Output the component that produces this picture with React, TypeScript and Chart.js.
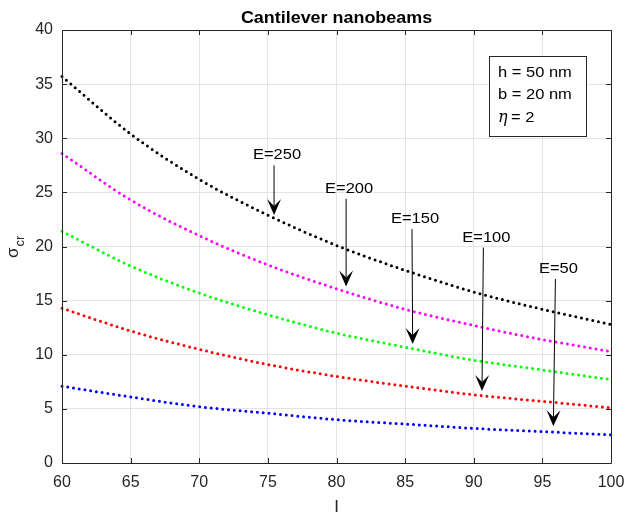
import React, { useEffect, useRef } from "react";
import { Chart, registerables } from "chart.js";

Chart.register(...registerables);

// Beam length l and critical stress for each Young's modulus
const lengths = [60, 65, 70, 75, 80, 85, 90, 95, 100];
const sigmaE250 = [35.7, 30.4, 26.2, 22.9, 20.1, 17.8, 15.8, 14.2, 12.8];
const sigmaE200 = [28.6, 24.3, 21.0, 18.3, 16.1, 14.2, 12.7, 11.4, 10.3];
const sigmaE150 = [21.4, 18.2, 15.7, 13.7, 12.0, 10.7, 9.5, 8.6, 7.7];
const sigmaE100 = [14.3, 12.2, 10.5, 9.1, 8.0, 7.1, 6.3, 5.7, 5.1];
const sigmaE50 = [7.1, 6.1, 5.2, 4.6, 4.0, 3.6, 3.2, 2.9, 2.6];

const seriesValues = [sigmaE250, sigmaE200, sigmaE150, sigmaE100, sigmaE50];
const seriesColors = ["#000000", "#ff00ff", "#00ff00", "#ff0000", "#0000ff"];
const moduli = [250, 200, 150, 100, 50];

// Arrow annotations pointing at each curve (data coordinates)
const arrowTailX = [75.45, 80.7, 85.5, 90.7, 95.95];
const arrowTailY = [27.5, 24.4, 21.6, 19.9, 17.0];
const arrowHeadX = [75.45, 80.7, 85.55, 90.6, 95.8];
const arrowHeadY = [22.9, 16.3, 11.0, 6.65, 3.4];

const xTicks = [60, 65, 70, 75, 80, 85, 90, 95, 100];
const yTicks = [0, 5, 10, 15, 20, 25, 30, 35, 40];

const infoLines = ["h = 50 nm", "b = 20 nm", "= 2"];

const FONT = "'Liberation Sans', Arial, Helvetica, sans-serif";
const AXIS_COLOR = "#262626";
const STRETCH = 1.1;

function drawText(
  ctx: CanvasRenderingContext2D,
  text: string,
  x: number,
  y: number,
  font: string,
  align: CanvasTextAlign,
  baseline: CanvasTextBaseline,
  sx = STRETCH
) {
  ctx.save();
  ctx.translate(x, y);
  ctx.scale(sx, 1);
  ctx.font = font;
  ctx.textAlign = align;
  ctx.textBaseline = baseline;
  ctx.fillText(text, 0, 0);
  ctx.restore();
}

const decorations = {
  id: "decorations",
  afterDatasetsDraw(chart: any) {
    const ctx: CanvasRenderingContext2D = chart.ctx;
    const { left, right, top, bottom } = chart.chartArea;
    const xs = chart.scales.x;
    const ys = chart.scales.y;

    ctx.save();
    // axes box
    ctx.strokeStyle = AXIS_COLOR;
    ctx.lineWidth = 1;
    ctx.beginPath();
    ctx.rect(Math.round(left) + 0.5, Math.round(top) + 0.5, Math.round(right - left), Math.round(bottom - top));
    ctx.stroke();

    // inward ticks on all four sides
    const tl = 5;
    ctx.beginPath();
    xTicks.forEach((v) => {
      const px = Math.round(xs.getPixelForValue(v)) + 0.5;
      ctx.moveTo(px, bottom);
      ctx.lineTo(px, bottom - tl);
      ctx.moveTo(px, top);
      ctx.lineTo(px, top + tl);
    });
    yTicks.forEach((v) => {
      const py = Math.round(ys.getPixelForValue(v)) + 0.5;
      ctx.moveTo(left, py);
      ctx.lineTo(left + tl, py);
      ctx.moveTo(right, py);
      ctx.lineTo(right - tl, py);
    });
    ctx.stroke();

    // arrows with modulus labels
    ctx.fillStyle = "#000000";
    ctx.strokeStyle = "#000000";
    moduli.forEach((e, i) => {
      const tx = xs.getPixelForValue(arrowTailX[i]);
      const ty = ys.getPixelForValue(arrowTailY[i]);
      const hx = xs.getPixelForValue(arrowHeadX[i]);
      const hy = ys.getPixelForValue(arrowHeadY[i]);
      const dx = hx - tx;
      const dy = hy - ty;
      const len = Math.hypot(dx, dy);
      const ux = dx / len;
      const uy = dy / len;
      const nx = -uy;
      const ny = ux;
      const headLen = 16;
      const halfW = 7;
      const notch = 9;
      ctx.lineWidth = 1;
      ctx.beginPath();
      ctx.moveTo(tx, ty);
      ctx.lineTo(hx - ux * notch, hy - uy * notch);
      ctx.stroke();
      ctx.beginPath();
      ctx.moveTo(hx, hy);
      ctx.lineTo(hx - ux * headLen + nx * halfW, hy - uy * headLen + ny * halfW);
      ctx.lineTo(hx - ux * notch, hy - uy * notch);
      ctx.lineTo(hx - ux * headLen - nx * halfW, hy - uy * headLen - ny * halfW);
      ctx.closePath();
      ctx.fill();
      drawText(ctx, "E=" + e, tx + 3, ty - 10, `15px ${FONT}`, "center", "middle");
    });

    // parameter box
    const bx = 489.5;
    const by = 56.5;
    const bw = 97;
    const bh = 80;
    ctx.fillStyle = "#ffffff";
    ctx.fillRect(bx, by, bw, bh);
    ctx.strokeStyle = AXIS_COLOR;
    ctx.lineWidth = 1;
    ctx.strokeRect(bx, by, bw, bh);
    ctx.fillStyle = "#000000";
    drawText(ctx, infoLines[0], 498, 73, `15px ${FONT}`, "left", "middle");
    drawText(ctx, infoLines[1], 498, 95, `15px ${FONT}`, "left", "middle");
    drawText(ctx, "η", 498, 118, `italic 16px 'DejaVu Serif', serif`, "left", "middle", 1);
    drawText(ctx, infoLines[2], 511, 118, `15px ${FONT}`, "left", "middle");

    // title
    drawText(ctx, "Cantilever nanobeams", (left + right) / 2, 23, `bold 16px ${FONT}`, "center", "alphabetic", 1.12);

    // x axis label
    ctx.fillStyle = AXIS_COLOR;
    drawText(ctx, "l", (left + right) / 2, 512, `17px ${FONT}`, "center", "alphabetic");

    // y axis label: sigma with subscript cr
    ctx.save();
    ctx.translate(18, 258);
    ctx.rotate(-Math.PI / 2);
    ctx.textAlign = "left";
    ctx.textBaseline = "alphabetic";
    ctx.font = `17px ${FONT}`;
    ctx.fillText("σ", 0, 0);
    const sw = ctx.measureText("σ").width;
    ctx.font = `13px ${FONT}`;
    ctx.fillText("cr", sw + 1, 6);
    ctx.restore();

    ctx.restore();
  },
};

export default function App() {
  const canvasRef = useRef<HTMLCanvasElement | null>(null);

  useEffect(() => {
    const canvas = canvasRef.current;
    if (!canvas) return;

    const datasets = seriesValues.map((vals, i) => ({
      label: "E=" + moduli[i],
      data: lengths.map((l, j) => ({ x: l, y: vals[j] })),
      borderColor: seriesColors[i],
      backgroundColor: seriesColors[i],
      borderWidth: 3,
      borderDash: [0, 5.8],
      borderCapStyle: "round" as const,
      tension: 0.4,
      cubicInterpolationMode: "monotone" as const,
      pointRadius: 0,
      clip: false as const,
    }));

    const chart = new Chart(canvas, {
      type: "line",
      data: { datasets },
      options: {
        animation: false,
        responsive: false,
        maintainAspectRatio: false,
        layout: { padding: { top: 30, right: 17, left: 0, bottom: 0 } },
        plugins: {
          legend: { display: false },
          tooltip: { enabled: false },
          title: { display: false },
        },
        scales: {
          x: {
            type: "linear",
            min: 60,
            max: 100,
            ticks: {
              stepSize: 5,
              color: AXIS_COLOR,
              font: { family: FONT, size: 16 },
              padding: 10,
              maxRotation: 0,
            },
            grid: { color: "#e4e4e4", drawTicks: false },
            border: { display: false },
            afterFit: (s: any) => {
              s.height = 52;
              s.paddingLeft = 0;
              s.paddingRight = 0;
            },
          },
          y: {
            type: "linear",
            min: 0,
            max: 40,
            ticks: {
              stepSize: 5,
              color: AXIS_COLOR,
              font: { family: FONT, size: 16 },
              padding: 9,
            },
            grid: { color: "#e4e4e4", drawTicks: false },
            border: { display: false },
            afterFit: (s: any) => {
              s.width = 62;
              s.paddingTop = 0;
              s.paddingBottom = 0;
            },
          },
        },
      },
      plugins: [decorations],
    });

    return () => chart.destroy();
  }, []);

  return (
    <div style={{ position: "absolute", left: 0, top: 0, width: 628, height: 515, background: "#ffffff" }}>
      <canvas ref={canvasRef} width={628} height={515} style={{ display: "block" }} />
    </div>
  );
}
